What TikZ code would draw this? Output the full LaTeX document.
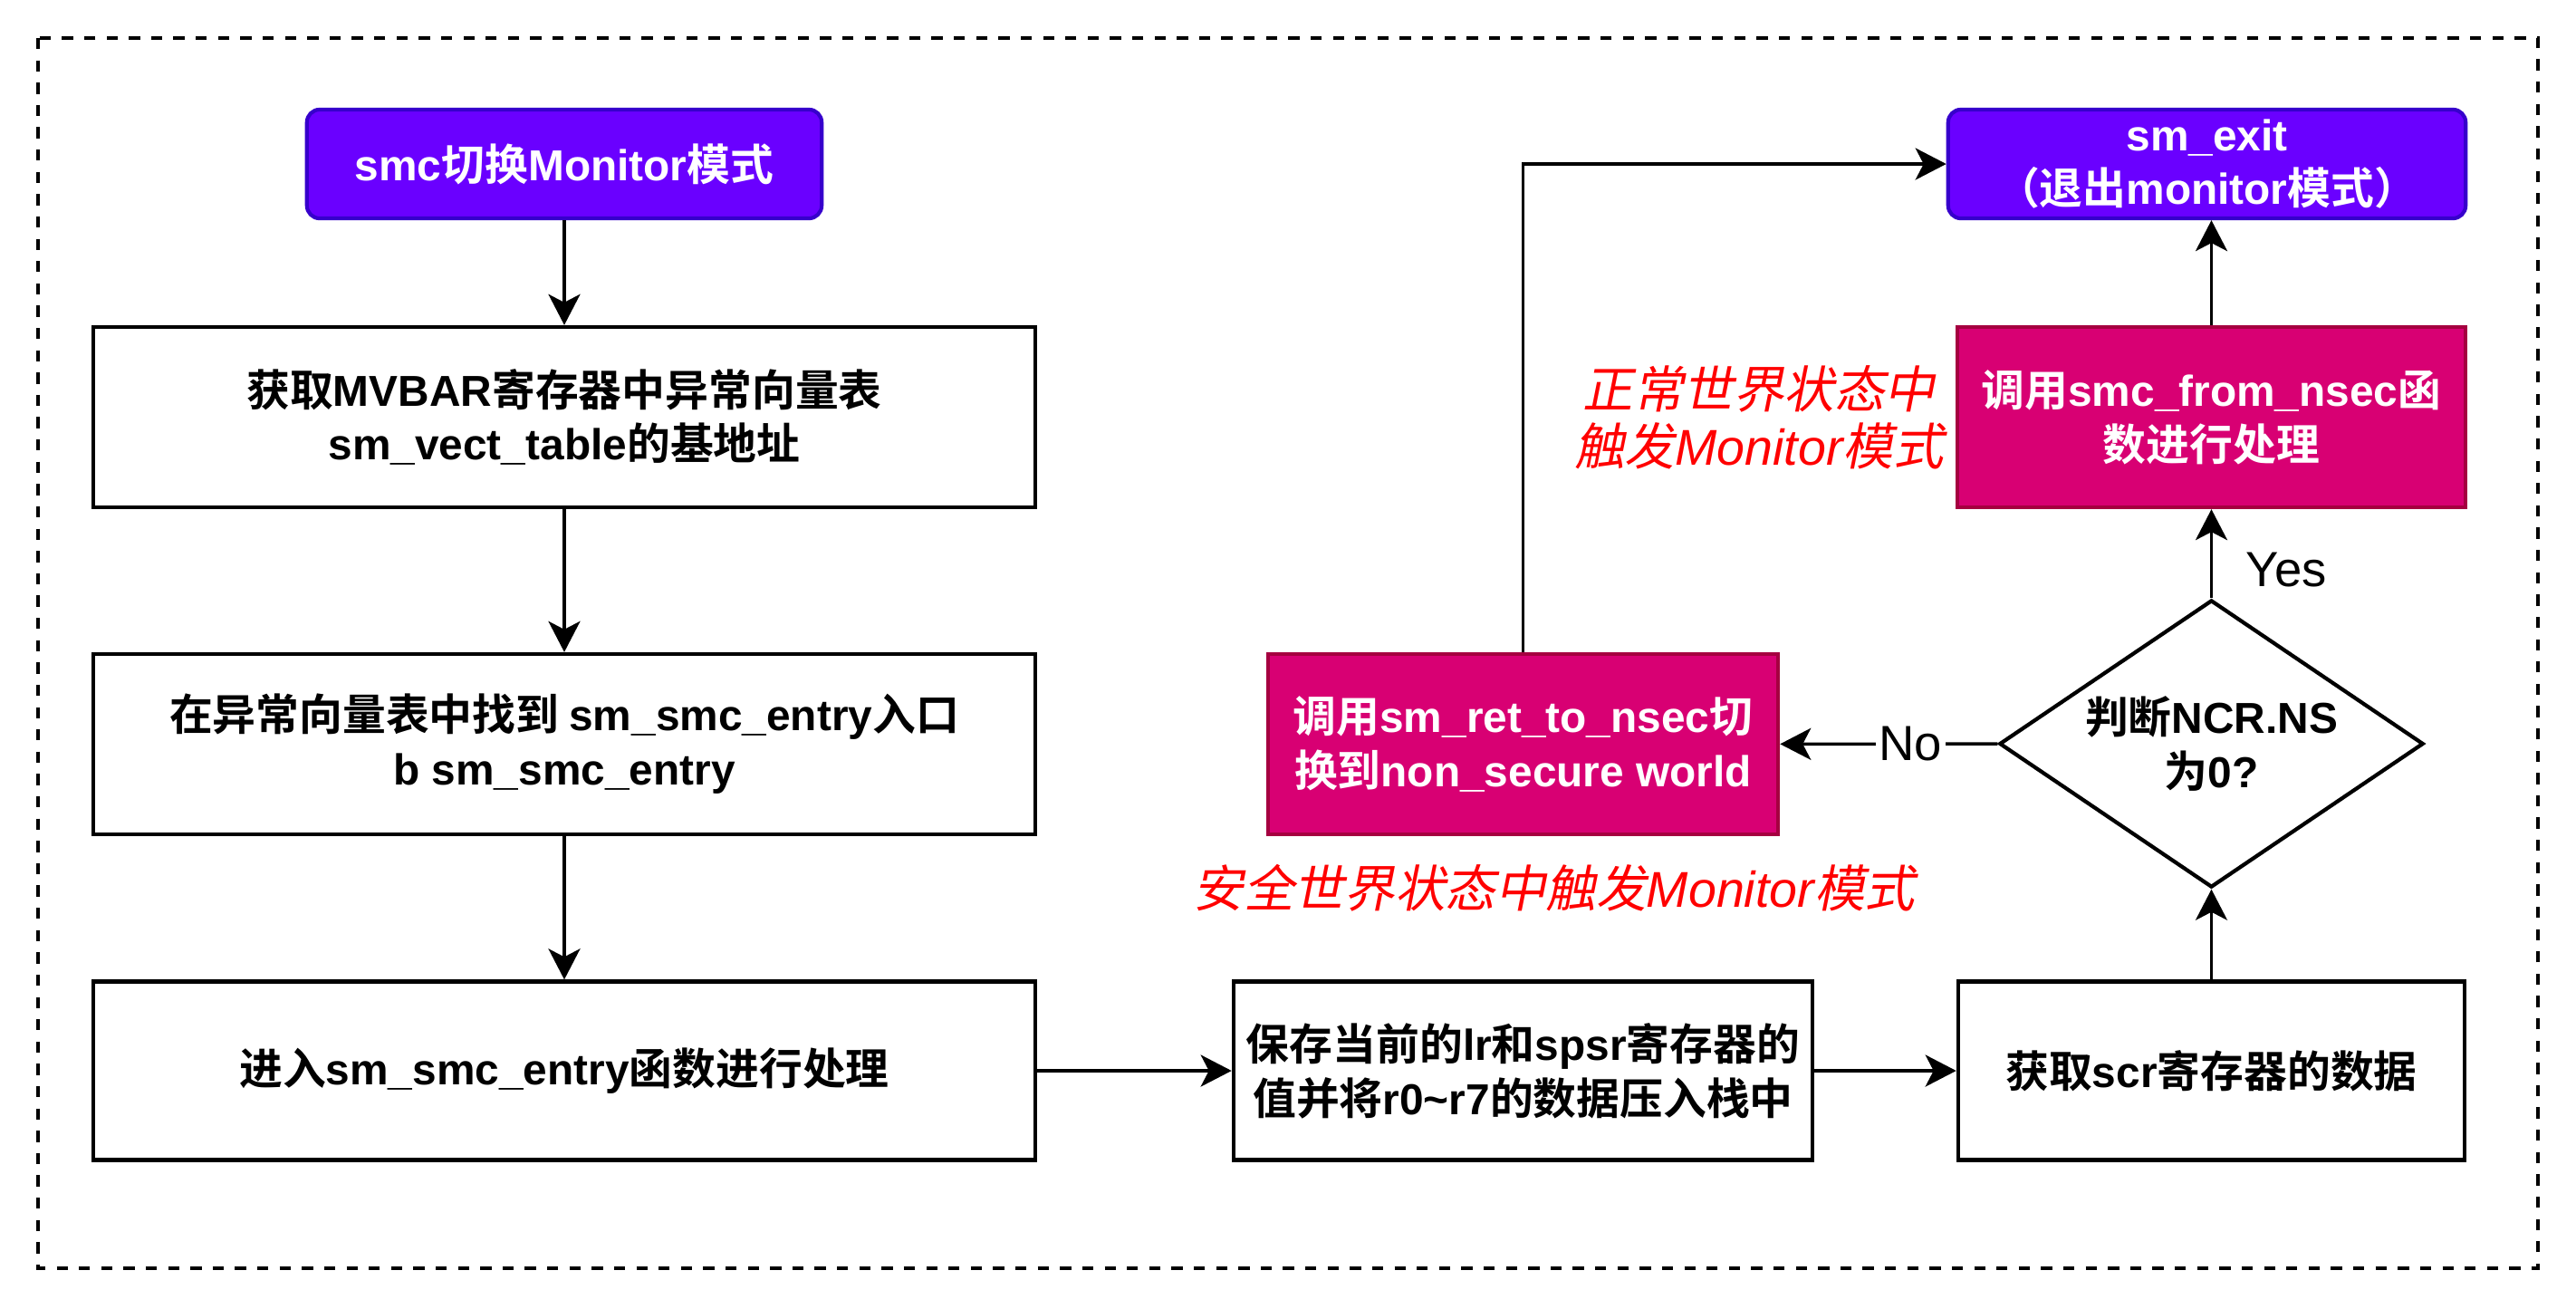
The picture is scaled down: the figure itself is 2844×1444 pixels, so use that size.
\documentclass[tikz,border=0pt]{standalone}
\usepackage{fontspec}
\setmainfont{Liberation Sans}
\newfontfamily\cjkfam{Noto Sans CJK SC}[BoldFont={* Bold}, ItalicFont={*}, ItalicFeatures={FakeSlant=0.2}, BoldItalicFont={* Bold}, BoldItalicFeatures={FakeSlant=0.2}]
% switch to the CJK font for ideographs
\newcount\zhc
\zhc="4E00
\loop\ifnum\zhc<"A000 \XeTeXcharclass\zhc=1 \advance\zhc by 1 \repeat
\XeTeXcharclass"FF08=1 \XeTeXcharclass"FF09=1
\XeTeXinterchartoks 0 1 = {\cjkfam}
\XeTeXinterchartoks 4095 1 = {\cjkfam}
\XeTeXinterchartoks 1 0 = {\rmfamily}
\XeTeXinterchartoks 4095 0 = {\rmfamily}
\XeTeXinterchartokenstate=1
\usetikzlibrary{arrows.meta, shapes.geometric}
\definecolor{cviolet}{HTML}{6A00FF}
\definecolor{cvioletline}{HTML}{3700CC}
\definecolor{cmagenta}{HTML}{D80073}
\definecolor{cmagentaline}{HTML}{A50040}
\definecolor{cred}{HTML}{FF0000}
\tikzset{
  every picture/.style={line width=1pt},
  box/.style={draw=black, fill=white, line width=1.2pt, align=center, inner sep=2pt, font=\fontsize{13.6}{17}\selectfont\bfseries},
  term/.style={box, draw=cvioletline, fill=cviolet, text=white, rounded corners=4pt},
  call/.style={box, draw=cmagentaline, fill=cmagenta, text=white},
  decide/.style={box, diamond, aspect=1.476, inner sep=1pt},
  arrow/.style={-{Stealth[length=3.4mm, width=3.5mm, inset=0.9mm]}, line width=1pt},
  note/.style={font=\fontsize{15.8}{18}\selectfont\itshape, text=cred, align=center},
  tag/.style={font=\fontsize{15.5}{18}\selectfont, inner sep=1pt},
}
\begin{document}
\begin{tikzpicture}[x=0.01cm, y=-0.01cm]
  \useasboundingbox (0,0) rectangle (2844,1444);
  \draw[dash pattern=on 3.5pt off 3.5pt] (42,42) rectangle (2802,1400);
  % left column
  \node[term, minimum width=5.68cm, minimum height=1.2cm] (enter) at (623,181) {smc切换Monitor模式};
  \node[box, minimum width=10.4cm, minimum height=1.99cm] (base) at (623,460.5) {获取MVBAR寄存器中异常向量表\\sm\_vect\_table的基地址};
  \node[box, minimum width=10.4cm, minimum height=1.99cm] (find) at (623,821.5) {在异常向量表中找到 sm\_smc\_entry入口\\b sm\_smc\_entry};
  \node[box, minimum width=10.4cm, minimum height=1.97cm] (entry) at (623,1182) {进入sm\_smc\_entry函数进行处理};
  % bottom row
  \node[box, minimum width=6.39cm, minimum height=1.97cm] (save) at (1681.5,1182) {保存当前的lr和spsr寄存器的\\值并将r0\textasciitilde r7的数据压入栈中};
  \node[box, minimum width=5.59cm, minimum height=1.97cm] (scr) at (2441.5,1182) {获取scr寄存器的数据};
  % decision and branches
  \node[decide, minimum width=4.68cm, minimum height=3.17cm] (ns) at (2441.5,821) {判断NCR.NS\\为0?};
  \node[call, minimum width=5.63cm, minimum height=1.99cm] (tosec) at (1681.5,821.5) {调用sm\_ret\_to\_nsec切\\换到non\_secure world};
  \node[call, minimum width=5.61cm, minimum height=1.99cm] (fromns) at (2441.5,460.5) {调用smc\_from\_nsec函\\数进行处理};
  \node[term, minimum width=5.71cm, minimum height=1.2cm] (leave) at (2436.5,181) {sm\_exit\\（退出monitor模式）};
  \node[note] (nsnote) at (1942,461) {正常世界状态中\\触发Monitor模式};
  \node[note] (secnote) at (1716,980) {安全世界状态中触发Monitor模式};
  % connectors
  \draw[arrow] (enter) -- (base);
  \draw[arrow] (base) -- (find);
  \draw[arrow] (find) -- (entry);
  \draw[arrow] (entry) -- (save);
  \draw[arrow] (save) -- (scr);
  \draw[arrow] (scr) -- (ns);
  \draw[arrow] (ns) -- node[tag, pos=0.32, anchor=west, xshift=0.33cm] {Yes} (fromns);
  \draw[arrow] (ns) -- node[tag, pos=0.4, fill=white] {No} (tosec);
  \draw[arrow] (tosec) |- (leave);
  \draw[arrow] (fromns) -- (fromns |- leave.south);
\end{tikzpicture}
\end{document}
